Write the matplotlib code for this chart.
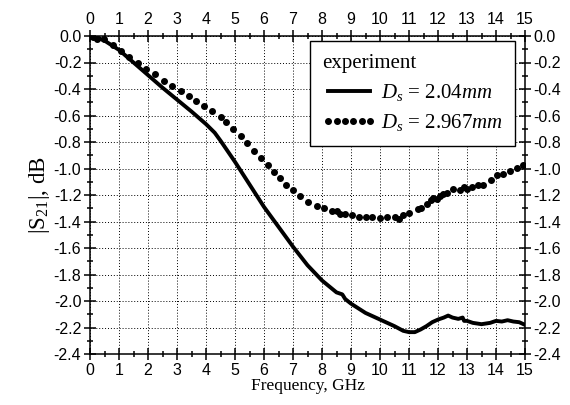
import matplotlib
matplotlib.use('Agg')
import matplotlib.pyplot as plt
from matplotlib.ticker import MultipleLocator

# measured |S21| for Ds = 2.04 mm (solid)
freq_a = [0.0, 0.25, 0.5, 0.75, 1.0, 1.5, 2.0, 2.5, 3.0, 3.5, 4.0, 4.3, 4.5,
          5.0, 5.5, 6.0, 6.5, 7.0, 7.5, 8.0, 8.5, 8.7, 8.8, 9.0, 9.5, 10.0,
          10.5, 10.8, 11.0, 11.2, 11.4, 11.6, 11.8, 12.0, 12.2, 12.35, 12.5,
          12.7, 12.85, 12.9, 13.0, 13.2, 13.5, 13.8, 14.0, 14.2, 14.4, 14.6,
          14.8, 15.0]
s21_a = [0.0, -0.012, -0.035, -0.07, -0.105, -0.2, -0.295, -0.39, -0.48,
         -0.57, -0.665, -0.73, -0.79, -0.95, -1.12, -1.29, -1.44, -1.59,
         -1.73, -1.845, -1.935, -1.95, -1.985, -2.02, -2.09, -2.14, -2.19,
         -2.225, -2.235, -2.235, -2.215, -2.19, -2.16, -2.14, -2.125, -2.11,
         -2.125, -2.135, -2.125, -2.15, -2.15, -2.165, -2.175, -2.165, -2.15,
         -2.155, -2.145, -2.155, -2.16, -2.18]

# measured |S21| for Ds = 2.967 mm (dots)
freq_b = [0.0, 0.1, 0.25, 0.48, 0.8, 1.06, 1.36, 1.64, 1.94, 2.24, 2.54, 2.84,
          3.13, 3.40, 3.67, 3.94, 4.21, 4.50, 4.70, 4.93, 5.20, 5.43, 5.66,
          5.89, 6.13, 6.35, 6.55, 6.76, 7.01, 7.24, 7.53, 7.82, 8.07, 8.33,
          8.50, 8.62, 8.79, 9.05, 9.28, 9.50, 9.71, 10.0, 10.23, 10.52, 10.66,
          10.80, 11.0, 11.32, 11.40, 11.61, 11.75, 11.84, 11.96, 12.07, 12.18,
          12.30, 12.53, 12.76, 12.90, 12.99, 13.16, 13.39, 13.54, 13.82, 14.02,
          14.25, 14.48, 14.71, 14.92]
s21_b = [0.0, -0.01, -0.025, -0.025, -0.065, -0.11, -0.16, -0.206, -0.25,
         -0.29, -0.337, -0.377, -0.413, -0.453, -0.49, -0.527, -0.564, -0.612,
         -0.65, -0.702, -0.755, -0.805, -0.866, -0.919, -0.972, -1.03, -1.074,
         -1.125, -1.163, -1.21, -1.252, -1.283, -1.30, -1.318, -1.318, -1.343,
         -1.343, -1.352, -1.368, -1.368, -1.368, -1.371, -1.368, -1.364,
         -1.379, -1.351, -1.338, -1.308, -1.296, -1.268, -1.238, -1.225,
         -1.232, -1.208, -1.192, -1.183, -1.153, -1.162, -1.142, -1.157,
         -1.142, -1.122, -1.122, -1.087, -1.051, -1.039, -1.017, -0.998, -0.971]

labels = [r'$D_s$ = 2.04$mm$', r'$D_s$ = 2.967$mm$']

plt.rcParams['mathtext.fontset'] = 'custom'
plt.rcParams['mathtext.rm'] = 'Liberation Serif'
plt.rcParams['mathtext.it'] = 'Liberation Serif:italic'

fig = plt.figure(figsize=(5.7, 4.05), dpi=100)
ax = fig.add_axes([90 / 570, 51 / 405, 435 / 570, 318 / 405])

ax.plot(freq_a, s21_a, color='black', linewidth=2.8, label=labels[0])
ax.plot(freq_b, s21_b, color='black', linestyle='none', marker='o',
        markersize=4, label=labels[1])

ax.set_xlim(0, 15)
ax.set_ylim(-2.4, 0)
ax.xaxis.set_major_locator(MultipleLocator(1))
ax.xaxis.set_minor_locator(MultipleLocator(0.5))
ax.yaxis.set_major_locator(MultipleLocator(0.2))
ax.yaxis.set_minor_locator(MultipleLocator(0.1))
ax.yaxis.set_major_formatter(plt.FuncFormatter(lambda v, p: f'{v:.1f}'.replace('-0.0', '0.0')))

ax.grid(True, which='major', linestyle=(0, (1, 2)), color='black', linewidth=0.7)
ax.tick_params(which='both', direction='inout', top=True, right=True,
               labeltop=True, labelright=True, width=1.1)
ax.tick_params(which='major', length=8.5, pad=2)
ax.tick_params(which='minor', length=4.5)
for lab in ax.get_xticklabels() + ax.get_yticklabels():
    lab.set_fontfamily('Liberation Sans')
    lab.set_fontsize(11.5)
for sp in ax.spines.values():
    sp.set_linewidth(1.1)

ax.set_xlabel('Frequency, GHz', fontfamily='Liberation Serif', fontsize=12.5, labelpad=0)
ax.set_ylabel(r'$|\mathrm{S}_{21}|$, dB', fontfamily='Liberation Serif', fontsize=16.5, labelpad=1)

leg = ax.legend(title='experiment', loc='upper right', bbox_to_anchor=(0.977, 0.984),
                borderaxespad=0, numpoints=6, handlelength=2.6, handletextpad=0.2,
                fancybox=False, edgecolor='black', framealpha=1,
                prop={'family': 'Liberation Serif', 'size': 15},
                alignment='left', labelspacing=0.45, borderpad=0.6)
leg.get_title().set_fontfamily('Liberation Serif')
leg.get_title().set_fontsize(15)
leg.get_frame().set_linewidth(1.0)

fig.savefig('out.png', dpi=100)
